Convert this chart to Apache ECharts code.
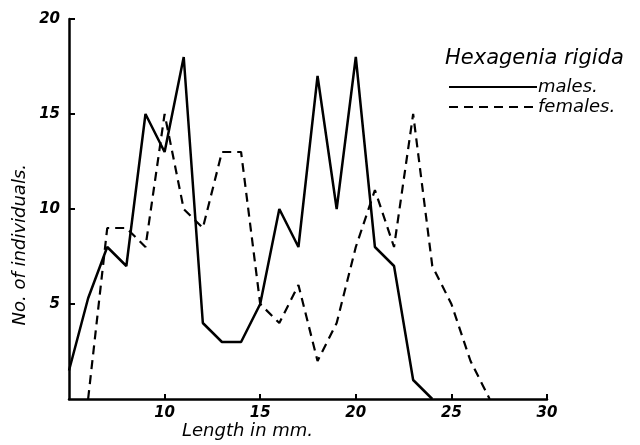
<!DOCTYPE html>
<html>
<head>
<meta charset="utf-8">
<script src="https://cdn.jsdelivr.net/npm/echarts@6/dist/echarts.min.js"></script>
<style>
  html, body { margin: 0; padding: 0; background: #fff; }
  #chart { width: 640px; height: 445px; }
</style>
</head>
<body>
<div id="chart"></div>
<script>
// length in mm -> number of individuals
const malePoints = [
  [5, 1.5], [6, 5.3], [7, 8], [8, 7], [9, 15], [10, 13], [11, 18], [12, 4],
  [13, 3], [14, 3], [15, 5], [16, 10], [17, 8], [18, 17], [19, 10], [20, 18],
  [21, 8], [22, 7], [23, 1], [24, 0]
];
const femalePoints = [
  [6, 0], [7, 9], [8, 9], [9, 8], [10, 15], [11, 10], [12, 9], [13, 13],
  [14, 13], [15, 5], [16, 4], [17, 6], [18, 2], [19, 4], [20, 8], [21, 11],
  [22, 8], [23, 15], [24, 7], [25, 5], [26, 2], [27, 0]
];
const seriesNames = ['males.', 'females.'];
const xTicks = [10, 15, 20, 25, 30];
const yTicks = [5, 10, 15, 20];

const font = '"DejaVu Sans", sans-serif';
const chart = echarts.init(document.getElementById('chart'));

const option = {
  backgroundColor: '#fff',
  animation: false,
  title: {
    text: 'Hexagenia rigida',
    left: 440,
    top: 43,
    textStyle: { fontFamily: font, fontStyle: 'italic', fontWeight: 'normal', fontSize: 21, color: '#000' }
  },
  legend: {
    orient: 'vertical',
    left: 443,
    top: 73,
    itemWidth: 88,
    itemHeight: 12,
    itemGap: 2,
    data: seriesNames,
    itemStyle: { opacity: 0 },
    textStyle: { fontFamily: font, fontStyle: 'italic', fontSize: 18, color: '#000', padding: [0, 0, 3, -4] }
  },
  grid: { left: 69, right: 93, top: 19, bottom: 46 },
  xAxis: {
    type: 'value',
    min: 5,
    max: 30,
    interval: 5,
    axisLine: { lineStyle: { color: '#000', width: 2.5 } },
    axisTick: { inside: true, length: 5, lineStyle: { color: '#000', width: 2 },
      customValues: xTicks },
    axisLabel: { customValues: xTicks, color: '#000', fontFamily: font, fontStyle: 'italic', fontWeight: 'bold', fontSize: 15, margin: 7 },
    splitLine: { show: false }
  },
  yAxis: {
    type: 'value',
    min: 0,
    max: 20,
    interval: 5,
    axisLine: { show: true, lineStyle: { color: '#000', width: 2.5 } },
    axisTick: { show: true, inside: true, length: 6, lineStyle: { color: '#000', width: 2 },
      customValues: yTicks },
    axisLabel: { customValues: yTicks, color: '#000', fontFamily: font, fontStyle: 'italic', fontWeight: 'bold', fontSize: 15, margin: 9 },
    splitLine: { show: false }
  },
  graphic: [
    {
      type: 'text',
      left: 11,
      top: 164,
      rotation: Math.PI / 2,
      style: { text: 'No. of individuals.', fill: '#000', font: 'italic 18px ' + font }
    },
    {
      type: 'text',
      left: 182,
      top: 422,
      style: { text: 'Length in mm.', fill: '#000', font: 'italic 18px ' + font }
    }
  ],
  series: [
    {
      name: seriesNames[0],
      type: 'line',
      data: malePoints,
      symbol: 'none',
      lineStyle: { color: '#000', width: 2.5, type: 'solid' },
      itemStyle: { color: '#000' }
    },
    {
      name: seriesNames[1],
      type: 'line',
      data: femalePoints,
      symbol: 'none',
      lineStyle: { color: '#000', width: 2.2, type: [9, 6] },
      itemStyle: { color: '#000' }
    }
  ]
};

chart.setOption(option);
</script>
</body>
</html>
